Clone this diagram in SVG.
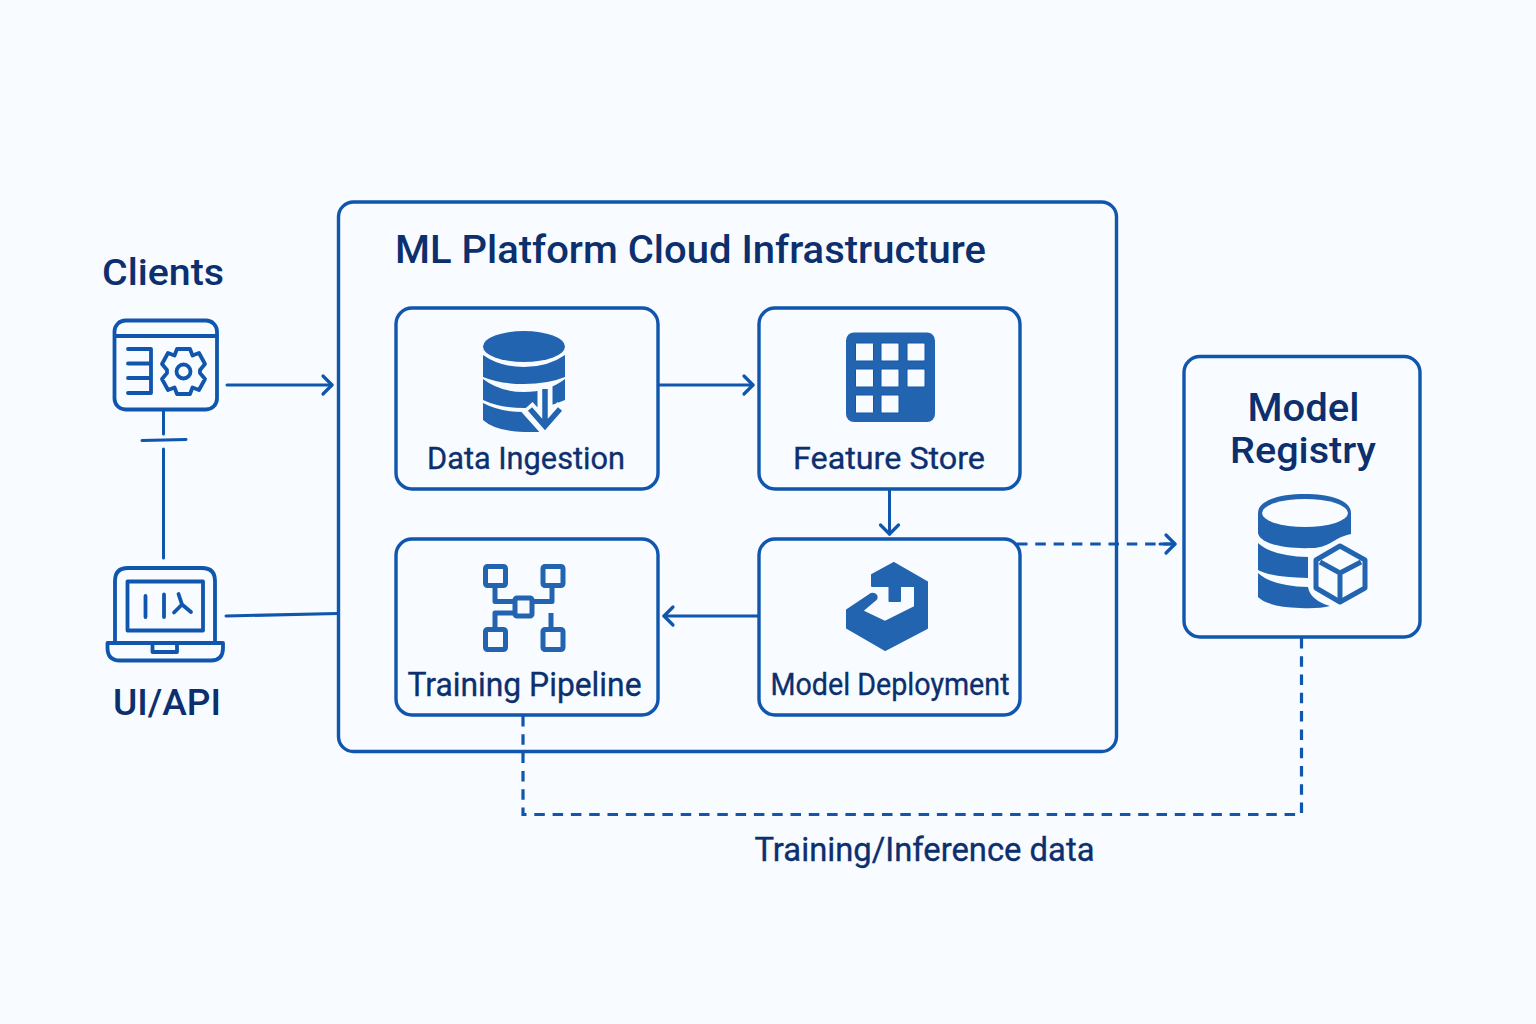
<svg xmlns="http://www.w3.org/2000/svg" width="1536" height="1024" viewBox="0 0 1536 1024">
<style>
.box{fill:none;stroke:#0f56ac;stroke-width:3.400}
.ln{fill:none;stroke:#0f56ac;stroke-width:3;stroke-linecap:round;stroke-linejoin:round}
.iln{fill:none;stroke:#0f56ac;stroke-width:3.800;stroke-linecap:round;stroke-linejoin:round}
.dash{fill:none;stroke:#0f56ac;stroke-width:3.200;stroke-dasharray:10.500 7.800}
.ic{fill:#2364b0}
.cut{fill:#f8fbff;stroke:#0f56ac;stroke-width:1}
.t{font-family:"Roboto","Liberation Sans",sans-serif;fill:#0c2f6e;font-weight:500;text-anchor:middle}
.l{font-weight:400;stroke:#0c2f6e;stroke-width:.35}
</style>
<defs><marker id="ah" markerUnits="userSpaceOnUse" markerWidth="20" markerHeight="24" refX="14" refY="12" orient="auto"><path d="M5 3L14 12L5 21" fill="none" stroke="#0f56ac" stroke-width="3.200" stroke-linecap="round" stroke-linejoin="round"/></marker></defs>
<rect width="1536" height="1024" fill="#f8fbff"/>
<g id="connectors">
<path class="ln" marker-end="url(#ah)" d="M227 385H332"/>
<path class="ln" d="M163.500 411V434M142 440.500L186 439.500M163.500 449V558M226 616L338 613.500"/>
<path class="ln" marker-end="url(#ah)" d="M659 385H753"/>
<path class="ln" marker-end="url(#ah)" d="M889.500 490V534"/>
<path class="ln" marker-end="url(#ah)" d="M758 616H664"/>
<path class="dash" d="M1017 544H1172"/>
<path class="ln" marker-end="url(#ah)" d="M1160 544H1175"/>
<path class="dash" d="M523 716V814.500H1301.500V638"/>
</g>
<g id="platform"><rect class="box" x="338.500" y="202" width="778" height="549.500" rx="15"/>
<text class="t" x="690.500" y="263" font-size="38" textLength="591" lengthAdjust="spacingAndGlyphs">ML Platform Cloud Infrastructure</text></g>
<g id="clients">
<text class="t" x="163" y="285" font-size="37" textLength="122" lengthAdjust="spacingAndGlyphs">Clients</text>
<rect class="iln" x="114.500" y="320.500" width="102.500" height="89" rx="11"/>
<path class="iln" d="M115 336H217M128 349H151V393H128M128 363.500H151M128 378H151"/>
<circle class="iln" cx="183.500" cy="371.500" r="7"/>
<path class="iln" d="M177 349H190L192.500 355.500L199 353L205 364L200 370V373L205 379L199 390L192.500 387.500L190 394H177L174.500 387.500L168 390L162 379L167 373V370L162 364L168 353L174.500 355.500Z"/>
</g>
<g id="uiapi">
<path class="iln" d="M115 642V581Q115 568 128 568H202Q215 568 215 581V642"/>
<rect class="iln" x="127.500" y="581.500" width="75.500" height="49"/>
<path class="iln" d="M145.500 596V617M164 594.500V617M178.500 594L182 604.500M174 612.500L182 604.500L191 612"/>
<path class="iln" d="M107.500 643H223V648Q223 660.500 211 660.500H120Q107.500 660.500 107.500 648ZM152.500 644V652H177V644"/>
<text class="t" x="167" y="715" font-size="37" textLength="108" lengthAdjust="spacingAndGlyphs">UI/API</text>
</g>
<g id="data-ingestion">
<rect class="box" x="396" y="308" width="262" height="181" rx="16"/>
<ellipse class="ic" cx="524" cy="346.500" rx="41" ry="15.500"/>
<path class="ic" d="M483 355Q500 367 524 367Q548 367 565 355V377Q548 384 524 384Q500 384 483 377Z"/>
<path class="ic" d="M483 379Q500 392 524 392Q548 392 565 379V400Q548 408 524 408Q500 408 483 400Z"/>
<path class="ic" d="M483 403Q500 412 524 412L530 412L545 432H524Q495 431 483 420Z"/>
<path d="M545 386V422M527 407L545 427L563 407" fill="none" stroke="#f8fbff" stroke-width="15"/>
<path d="M545 389V424M530 409L545 426L560 409" fill="none" stroke="#2364b0" stroke-width="5.500"/>
<text class="t l" x="526" y="469" font-size="32" textLength="198" lengthAdjust="spacingAndGlyphs">Data Ingestion</text>
</g>
<g id="feature-store">
<rect class="box" x="759" y="308" width="261" height="181" rx="16"/>
<rect class="ic" x="846" y="332.500" width="89" height="89.500" rx="8"/>
<rect class="cut" x="855.500" y="343" width="18" height="18" rx="1"/><rect class="cut" x="881" y="343" width="18" height="18" rx="1"/><rect class="cut" x="907" y="343" width="18" height="18" rx="1"/>
<rect class="cut" x="855.500" y="369" width="18" height="18" rx="1"/><rect class="cut" x="881" y="369" width="18" height="18" rx="1"/><rect class="cut" x="907" y="369" width="18" height="18" rx="1"/>
<rect class="cut" x="855.500" y="395" width="18" height="18" rx="1"/><rect class="cut" x="881" y="395" width="18" height="18" rx="1"/>
<text class="t l" x="889" y="469" font-size="32" textLength="192" lengthAdjust="spacingAndGlyphs">Feature Store</text>
</g>
<g id="training-pipeline">
<rect class="box" x="396" y="539" width="262" height="176" rx="16"/>
<g fill="none" stroke="#2364b0" stroke-width="5" stroke-linejoin="round">
<rect x="485.500" y="566.500" width="20" height="19" rx="2"/><rect x="543" y="566.500" width="20" height="19" rx="2"/>
<rect x="515" y="598" width="17" height="18" rx="2"/>
<rect x="485.500" y="629.500" width="20" height="20" rx="2"/><rect x="543" y="629.500" width="20" height="20" rx="2"/>
<path d="M495 586V601.500H515M552 586V601.500H532M515 613H495V629M551 613V629"/>
</g>
<text class="t l" x="524.500" y="696" font-size="34" textLength="234" lengthAdjust="spacingAndGlyphs">Training Pipeline</text>
</g>
<g id="model-deployment">
<rect class="box" x="759" y="539" width="261" height="176" rx="16"/>
<path class="ic" stroke="#2364b0" stroke-width="2" stroke-linejoin="round" d="M894 563L927 582V628L885 650L847 628V610L871 594Q875 593 876.500 596Q877 599 875 600L862 611L885 622L915 607V586H900V601H889.500V586H872V575Z"/>
<text class="t l" x="890" y="695" font-size="32" textLength="239" lengthAdjust="spacingAndGlyphs">Model Deployment</text>
</g>
<g id="model-registry">
<rect class="box" x="1184" y="356.500" width="236" height="280.500" rx="16"/>
<text class="t" x="1303.500" y="421" font-size="39" textLength="112" lengthAdjust="spacingAndGlyphs">Model</text>
<text class="t" x="1303" y="463" font-size="37" textLength="146" lengthAdjust="spacingAndGlyphs">Registry</text>
<path class="ic" d="M1258 513C1258 500 1280 494 1305 494C1330 494 1351 500 1351 513V534L1347 535C1335 538 1328 548 1312 548C1285 549 1260 544 1258 533Z"/>
<ellipse cx="1305" cy="513" rx="43" ry="14" fill="#f8fbff"/>
<path class="ic" d="M1258 543Q1272 556 1308 557V578Q1270 577 1258 570Z"/>
<path class="ic" d="M1258 573Q1272 586 1308 587Q1310 600 1330 606Q1318 609 1300 608Q1268 607 1258 597Z"/>
<g fill="none" stroke="#2364b0" stroke-width="5" stroke-linejoin="round">
<path d="M1340 546L1365 560V588L1340 602L1316 588V560Z"/>
<path d="M1320 562L1340 573L1361 562M1340 573V600"/>
</g>
</g>
<g id="edge-label"><text class="t l" x="924.500" y="861" font-size="33" textLength="340" lengthAdjust="spacingAndGlyphs">Training/Inference data</text></g>
</svg>
